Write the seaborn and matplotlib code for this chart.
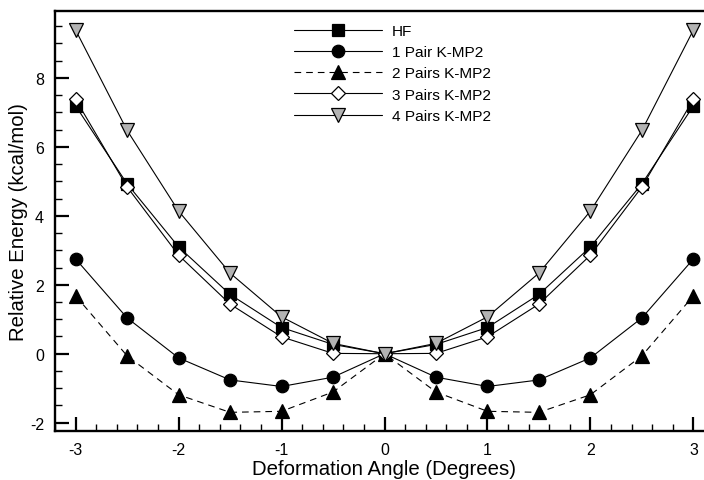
import matplotlib
matplotlib.use("Agg")
import matplotlib.pyplot as plt
from matplotlib.ticker import MultipleLocator
import seaborn as sns
import pandas as pd

# Deformation angle (degrees)
angles = [-3.0, -2.5, -2.0, -1.5, -1.0, -0.5, 0.0, 0.5, 1.0, 1.5, 2.0, 2.5, 3.0]

# Relative energies (kcal/mol)
hf = [7.19, 4.93, 3.10, 1.72, 0.76, 0.27, 0.0, 0.27, 0.76, 1.72, 3.10, 4.93, 7.19]
pair1 = [2.75, 1.04, -0.12, -0.76, -0.95, -0.68, 0.0, -0.68, -0.95, -0.76, -0.12, 1.04, 2.75]
pair2 = [1.68, -0.06, -1.19, -1.70, -1.67, -1.11, 0.0, -1.11, -1.67, -1.70, -1.19, -0.06, 1.68]
pair3 = [7.38, 4.84, 2.86, 1.44, 0.49, 0.01, 0.0, 0.01, 0.49, 1.44, 2.86, 4.84, 7.38]
pair4 = [9.39, 6.48, 4.14, 2.34, 1.07, 0.30, 0.0, 0.30, 1.07, 2.34, 4.14, 6.48, 9.39]

labels = ["HF", "1 Pair K-MP2", "2 Pairs K-MP2", "3 Pairs K-MP2", "4 Pairs K-MP2"]

df = pd.DataFrame({
    "angle": angles,
    labels[0]: hf,
    labels[1]: pair1,
    labels[2]: pair2,
    labels[3]: pair3,
    labels[4]: pair4,
})

sns.set_theme(style="white")
plt.rcParams["font.family"] = ["Liberation Sans", "DejaVu Sans"]
plt.rcParams["axes.unicode_minus"] = False
plt.rcParams["text.color"] = "black"

fig = plt.figure(figsize=(7.04, 4.81), dpi=100)
ax = fig.add_axes([55 / 704, 1 - 432.3 / 481, (714 - 55) / 704, (432.3 - 11.7) / 481])

styles = [
    dict(marker="s", markersize=9, markerfacecolor="black", markeredgecolor="black", linestyle="-"),
    dict(marker="o", markersize=9, markerfacecolor="black", markeredgecolor="black", linestyle="-"),
    dict(marker="^", markersize=9.5, markerfacecolor="black", markeredgecolor="black", linestyle=(0, (6, 4.5))),
    dict(marker="D", markersize=7.5, markerfacecolor="white", markeredgecolor="black", linestyle="-"),
    dict(marker="v", markersize=10, markerfacecolor="#b3b3b3", markeredgecolor="black", linestyle="-"),
]

for name, st in zip(labels, styles):
    sns.lineplot(data=df, x="angle", y=name, ax=ax, color="black", linewidth=0.8,
                 markeredgewidth=0.9, label=name, **st)

ax.set_xlim(-3.2, 3.2)
ax.set_ylim(-2.25, 9.95)

ax.xaxis.set_major_locator(MultipleLocator(1))
ax.xaxis.set_minor_locator(MultipleLocator(0.2))
ax.yaxis.set_major_locator(MultipleLocator(2))
ax.yaxis.set_minor_locator(MultipleLocator(0.5))

ax.tick_params(which="both", direction="in", color="black", labelcolor="black",
               top=False, right=False, bottom=True, left=True)
ax.tick_params(which="major", length=10, width=1.6, labelsize=11.5)
ax.tick_params(which="minor", length=5, width=1.0)
ax.tick_params(axis="x", which="major", pad=8)
ax.tick_params(axis="y", which="major", pad=8)

for side in ["left", "bottom", "top"]:
    ax.spines[side].set_linewidth(1.7)
    ax.spines[side].set_color("black")
ax.spines["right"].set_visible(False)

ax.set_xlabel("Deformation Angle (Degrees)", fontsize=14.7, color="black", labelpad=1)
ax.set_ylabel("Relative Energy (kcal/mol)", fontsize=14.7, color="black", labelpad=1)

leg = ax.legend(loc="upper left", bbox_to_anchor=(294 / 704, 1 - 25 / 481),
                bbox_transform=fig.transFigure, frameon=False, fontsize=11.1,
                handlelength=5.7, handletextpad=0.65, labelspacing=0.47,
                borderpad=0, borderaxespad=0)
for t in leg.get_texts():
    t.set_color("black")

fig.savefig("out.png", dpi=100)
